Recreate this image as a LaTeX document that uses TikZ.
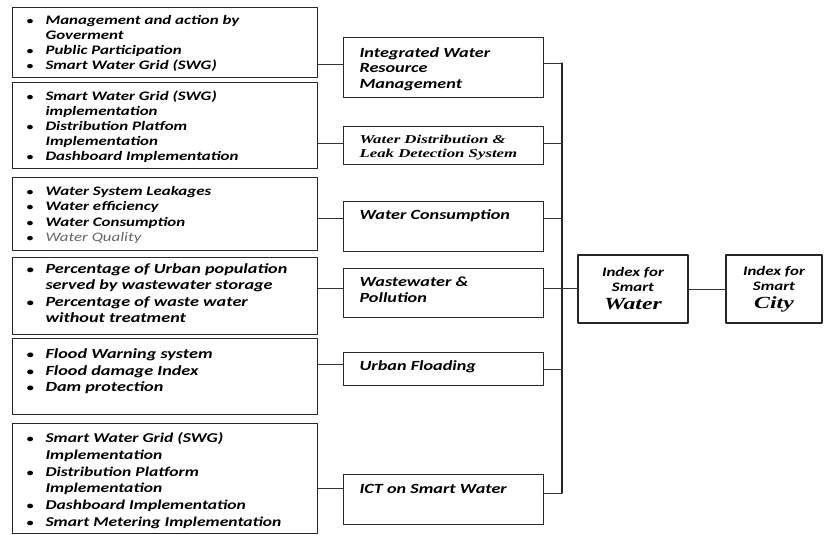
\documentclass[tikz,border=0pt]{standalone}
\usepackage{fontspec}
\newfontfamily\sansbi[FakeStretch=1.3]{Carlito}
\newfontfamily\serifbi[FakeStretch=1.4]{Liberation Serif}
\newcommand{\bul}[1]{\par\hangindent=18pt\hangafter=1\noindent\makebox[18pt][l]{\hspace{-1pt}\scalebox{0.8}{\textbullet}}#1}
\newcommand{\lbox}[5]{\parbox[c][#1][t]{305pt}{\raggedright\leftskip=15pt\sansbi\bfseries\itshape\fontsize{#3}{#4}\selectfont\vspace*{#2}#5}}
\newcommand{\tbox}[4]{\parbox[c][#1][t]{200pt}{\raggedright\leftskip=16pt#3\vspace*{#2}#4}}
\begin{document}
\begin{tikzpicture}[x=1pt,y=-1pt, line join=round, line cap=round,
	khung/.style={draw=black!85, line width=1.1pt, inner sep=0pt, anchor=north west},
	noi/.style={line width=0.7pt, draw=black!80}]
	\useasboundingbox (0,0) rectangle (825,535);
	%Cột bên trái
	\node[khung] (A1) at (12,7) {\lbox{70pt}{8pt}{13}{15}{\bul{Management and action by\newline Goverment}\bul{Public Participation}\bul{Smart Water Grid (SWG)}}};
	\node[khung] (A2) at (12,82) {\lbox{86pt}{8pt}{13}{15}{\bul{Smart Water Grid (SWG)\newline implementation}\bul{Distribution Platfom\newline Implementation}\bul{Dashboard Implementation}}};
	\node[khung] (A3) at (12,177) {\lbox{73pt}{8.5pt}{13}{15.5}{\bul{Water System Leakages}\bul{Water efficiency}\bul{Water Consumption}\bul{\mdseries\color{black!60}Water Quality}}};
	\node[khung] (A4) at (12,257) {\lbox{77pt}{6pt}{14}{16.5}{\bul{Percentage of Urban population\newline served by wastewater storage}\bul{Percentage of waste water\newline without treatment}}};
	\node[khung] (A5) at (12,338) {\lbox{76pt}{10pt}{14}{16.7}{\bul{Flood Warning system}\bul{Flood damage Index}\bul{Dam protection}}};
	\node[khung] (A6) at (12,423) {\lbox{110pt}{9pt}{13.5}{16.8}{\bul{Smart Water Grid (SWG)\newline Implementation}\bul{Distribution Platform\newline Implementation}\bul{Dashboard Implementation}\bul{Smart Metering Implementation}}};
	%Cột giữa
	\node[khung] (B1) at (343,37) {\tbox{60pt}{10pt}{\sansbi\bfseries\itshape\fontsize{14}{15.5}\selectfont}{Integrated Water\\Resource\\Management}};
	\node[khung] (B2) at (343,126) {\tbox{38pt}{8.5pt}{\serifbi\bfseries\itshape\fontsize{12}{14}\selectfont}{Water Distribution \&\\Leak Detection System}};
	\node[khung] (B3) at (343,201) {\tbox{50pt}{8pt}{\sansbi\bfseries\itshape\fontsize{14}{15.5}\selectfont}{Water Consumption}};
	\node[khung] (B4) at (343,268) {\tbox{49pt}{8pt}{\sansbi\bfseries\itshape\fontsize{14}{16}\selectfont}{Wastewater \&\\Pollution}};
	\node[khung] (B5) at (343,352) {\tbox{33pt}{8pt}{\sansbi\bfseries\itshape\fontsize{14}{15.5}\selectfont}{Urban Floading}};
	\node[khung] (B6) at (343,474) {\tbox{50pt}{10pt}{\sansbi\bfseries\itshape\fontsize{14}{15.5}\selectfont}{ICT on Smart Water}};
	%Chỉ số
	\node[khung, anchor=center, minimum width=110pt, minimum height=68pt, align=center, font=\sansbi\bfseries\itshape\fontsize{13}{15}\selectfont] (W) at (633,289) {Index for\\Smart\\[3pt]{\serifbi\fontsize{17}{17}\selectfont Water}};
	\node[khung, anchor=center, minimum width=96pt, minimum height=68pt, align=center, font=\sansbi\bfseries\itshape\fontsize{13}{15}\selectfont] (C) at (774,289) {Index for\\Smart\\[3pt]{\serifbi\fontsize{17}{17}\selectfont City}};
	\path (562,63) coordinate (T) (562,493) coordinate (U);
	\draw[line width=1.2pt, black!85] (T)--(U);
	\foreach \a/\b/\u/\v in {A1/B1/64/63, A2/B2/143/143, A3/B3/218/218, A4/B4/288/288, A5/B5/364/369, A6/B6/488/493}
	{\draw[noi] (\a.east |- 0,\u)--(\b.west |- 0,\u);
	\draw[noi] (\b.east |- 0,\v)--(T |- 0,\v);}
	\draw[noi] (T |- 0,288)--(W.west |- 0,288);
	\draw[noi] (W)--(C);
\end{tikzpicture}
\end{document}
